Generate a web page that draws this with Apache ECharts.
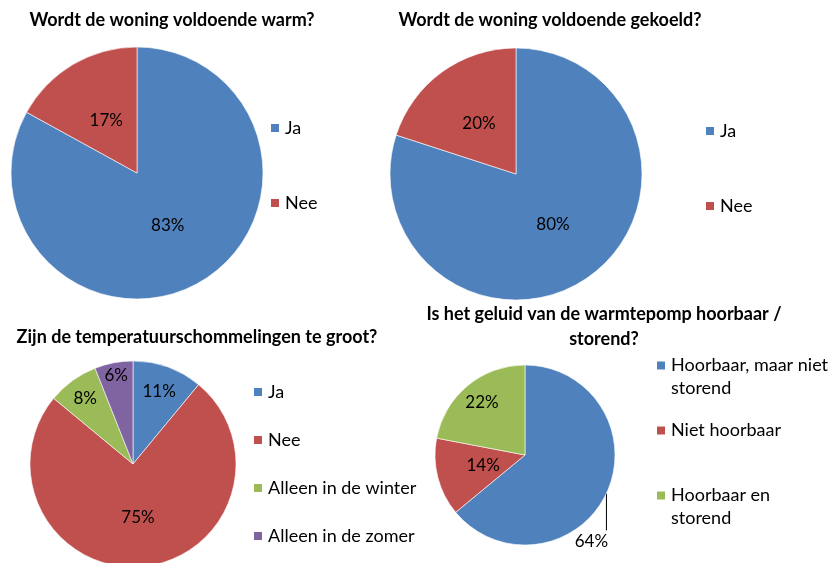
<!DOCTYPE html>
<html>
<head>
<meta charset="utf-8">
<script src="https://cdn.jsdelivr.net/npm/echarts@6/dist/echarts.min.js"></script>
<style>
  html, body { margin: 0; padding: 0; background: #fff; }
  #chart { width: 835px; height: 563px; }
</style>
</head>
<body>
<div id="chart"></div>
<script>
// data
const warmNames = ['Ja', 'Nee'];
const warmValues = [83, 17];
const koelNames = ['Ja', 'Nee'];
const koelValues = [80, 20];
const schommelNames = ['Ja', 'Nee', 'Alleen in de winter', 'Alleen in de zomer'];
const schommelValues = [11, 75, 8, 6];
const geluidNames = ['Hoorbaar, maar niet storend', 'Niet hoorbaar', 'Hoorbaar en storend'];
const geluidValues = [64, 14, 22];
// legend text as it is wrapped in the picture
const geluidLegend = ['Hoorbaar, maar niet\nstorend', 'Niet hoorbaar', 'Hoorbaar en\nstorend'];

const palette = ['#4F81BD', '#C0504D', '#9BBB59', '#8064A2'];
const font = 'Lato';

function midAngle(values, i) {
  const total = values.reduce((a, b) => a + b, 0);
  let before = 0;
  for (let j = 0; j < i; j++) before += values[j];
  return (before + values[i] / 2) / total * Math.PI * 2;
}

// places each label at a fraction of the radius along the slice's mid angle
// a negative fraction means: outside, with a vertical leader line downwards
function layoutFor(center, radius, values, fracs) {
  return function (p) {
    const a = midAngle(values, p.dataIndex);
    const k = fracs[p.dataIndex];
    if (k < 0) {
      const ex = center[0] + Math.sin(a) * radius;
      const ey = center[1] - Math.cos(a) * radius;
      return {
        x: ex - 15, y: ey + 48, align: 'center', verticalAlign: 'middle',
        labelLinePoints: [[ex, ey], [ex, ey + 37], [ex, ey + 37]]
      };
    }
    return {
      x: center[0] + Math.sin(a) * radius * k,
      y: center[1] - Math.cos(a) * radius * k,
      align: 'center', verticalAlign: 'middle'
    };
  };
}

function pie(names, values, center, radius, fracs) {
  return {
    type: 'pie',
    center: center,
    radius: radius,
    startAngle: 90,
    clockwise: true,
    animation: false,
    silent: true,
    label: {
      show: true,
      position: 'inside',
      formatter: '{c}%',
      color: '#000',
      fontFamily: font,
      fontSize: 17
    },
    labelLine: { show: false },
    labelLayout: layoutFor(center, radius, values, fracs),
    itemStyle: { borderColor: '#fff', borderWidth: 0.6 },
    data: names.map((n, i) => {
      const d = { name: n, value: values[i], itemStyle: { color: palette[i] } };
      if (fracs[i] < 0) {
        d.label = { position: 'outside' };
        d.labelLine = { show: true, lineStyle: { color: '#000', width: 1 } };
      }
      return d;
    })
  };
}

function legend(names, left, top, gap, lineHeight, formatter) {
  return {
    orient: 'vertical',
    left: left,
    top: top,
    padding: 0,
    itemWidth: 10,
    itemHeight: 10,
    itemGap: gap,
    icon: 'rect',
    selectedMode: false,
    data: names,
    formatter: formatter,
    textStyle: { color: '#000', fontFamily: font, fontSize: 18, lineHeight: lineHeight }
  };
}

const titleStyle = { color: '#000', fontFamily: font, fontSize: 18, fontWeight: 'bold', lineHeight: 25 };

const chart = echarts.init(document.getElementById('chart'));
chart.setOption({
  backgroundColor: '#fff',
  title: [
    { text: 'Wordt de woning voldoende warm?', left: 172, top: 8, padding: 0, textAlign: 'center', textStyle: titleStyle },
    { text: 'Wordt de woning voldoende gekoeld?', left: 550, top: 8, padding: 0, textAlign: 'center', textStyle: titleStyle },
    { text: 'Zijn de temperatuurschommelingen te groot?', left: 197, top: 325, padding: 0, textAlign: 'center', textStyle: titleStyle },
    { text: 'Is het geluid van de warmtepomp hoorbaar /\nstorend?', left: 604, top: 302, padding: 0, textAlign: 'center', textStyle: titleStyle }
  ],
  legend: [
    legend(warmNames, 269, 118, 55, 20),
    legend(koelNames, 704, 121, 55, 20),
    legend(schommelNames, 252, 382, 28, 20),
    legend(geluidNames, 655, 331, 19, 23, name => {
      const t = geluidLegend[geluidNames.indexOf(name)];
      return t.indexOf('\n') >= 0 ? '\n' + t : t;
    })
  ],
  series: [
    pie(warmNames, warmValues, [137, 173], 126, [0.48, 0.48]),
    pie(koelNames, koelValues, [516, 174], 126, [0.5, 0.5]),
    pie(schommelNames, schommelValues, [133, 464], 103, [0.75, 0.52, 0.79, 0.87]),
    pie(geluidNames, geluidValues, [525, 455], 90, [-1, 0.48, 0.75])
  ]
});
</script>
</body>
</html>
